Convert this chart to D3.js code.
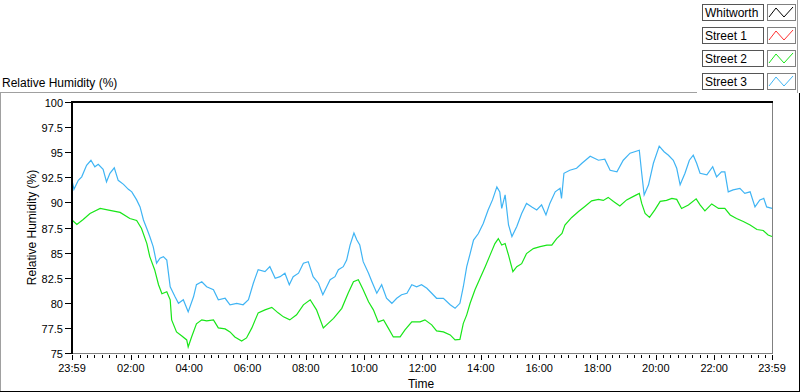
<!DOCTYPE html>
<html>
<head>
<meta charset="utf-8">
<script src="https://cdn.jsdelivr.net/npm/d3@7"></script>
<style>
  body { margin: 0; background: #fff; }
  svg { display: block; font-family: "Liberation Sans", Arial, sans-serif; }
</style>
</head>
<body>
<div id="chart"></div>
<script>
// series names shown in the legend
const seriesNames = ['Whitworth', 'Street 1', 'Street 2', 'Street 3'];
const seriesColors = ['#000000', '#ff3030', '#19e619', '#3fb4f4'];

// minutes after 23:59, value (%)
const street2 = [
  [0, 88.25], [10, 87.8], [23, 88.3], [37, 88.9], [58, 89.4], [78, 89.2], [99, 89.0],
  [119, 88.4], [133, 88.2], [143, 87.4], [154, 85.9], [160, 84.6], [170, 83.3], [178, 81.8],
  [185, 80.9], [195, 81.1], [202, 80.3], [205, 78.3], [215, 77.1], [226, 76.7], [236, 76.3],
  [239, 75.6], [246, 76.6], [256, 77.9], [267, 78.3], [277, 78.2], [291, 78.3], [301, 77.5],
  [315, 77.4], [325, 77.1], [335, 76.6], [349, 76.2], [359, 76.5], [370, 77.5], [383, 79.0],
  [397, 79.3], [411, 79.55], [424, 79.0], [435, 78.6], [448, 78.3], [462, 78.8], [476, 79.8],
  [490, 80.3], [503, 79.3], [517, 77.5], [527, 77.95], [538, 78.45], [555, 79.45], [568, 80.95],
  [579, 82.1], [589, 82.3], [599, 81.3], [610, 80.1], [620, 79.3], [630, 78.1], [641, 78.3],
  [651, 77.45], [661, 76.6], [675, 76.6], [685, 77.3], [699, 78.1], [716, 78.1], [726, 78.3],
  [740, 77.8], [750, 77.2], [764, 77.1], [778, 76.8], [788, 76.3], [798, 76.35], [805, 77.95],
  [812, 78.8], [819, 79.95], [829, 81.3], [839, 82.4], [850, 83.6], [860, 84.75], [870, 85.9],
  [877, 86.4], [884, 85.75], [891, 85.9], [898, 84.75], [907, 83.1], [915, 83.6], [925, 83.9],
  [935, 84.9], [949, 85.4], [963, 85.6], [977, 85.75], [987, 85.75], [997, 86.4], [1008, 86.9],
  [1014, 87.75], [1028, 88.5], [1042, 89.1], [1055, 89.6], [1069, 90.15], [1083, 90.3],
  [1093, 90.2], [1103, 90.5], [1114, 90.1], [1127, 89.65], [1141, 90.25], [1155, 90.6],
  [1167, 90.9], [1172, 89.9], [1179, 88.9], [1188, 88.5], [1199, 89.25], [1210, 90.1],
  [1223, 90.2], [1234, 90.4], [1244, 90.3], [1254, 89.4], [1268, 89.75], [1284, 90.35],
  [1292, 89.75], [1302, 89.15], [1316, 89.85], [1330, 89.4], [1343, 89.4], [1354, 88.75],
  [1367, 88.4], [1381, 88.1], [1395, 87.75], [1409, 87.3], [1422, 87.2], [1432, 86.75], [1440, 86.6]
];

const street3 = [
  [0, 92.2], [4, 91.3], [13, 92.2], [20, 92.55], [30, 93.7], [39, 94.2], [47, 93.55], [54, 93.8],
  [64, 93.3], [71, 92.05], [78, 92.9], [87, 93.45], [95, 92.2], [106, 91.8], [116, 91.3],
  [123, 91.05], [133, 90.25], [140, 89.55], [147, 88.25], [155, 87.25], [160, 86.6], [167, 85.6],
  [174, 83.95], [181, 84.45], [188, 84.6], [195, 84.25], [202, 81.6], [212, 80.6], [219, 79.95],
  [229, 80.3], [239, 79.1], [250, 80.6], [256, 81.8], [267, 82.1], [277, 81.6], [291, 81.3],
  [301, 80.3], [315, 80.45], [325, 79.8], [339, 79.95], [352, 79.8], [363, 80.3], [373, 81.95],
  [383, 83.3], [397, 83.1], [407, 83.6], [418, 82.45], [428, 82.6], [438, 82.95], [447, 81.8],
  [455, 82.6], [466, 82.95], [476, 83.95], [486, 84.1], [496, 82.6], [507, 81.95], [516, 80.8],
  [524, 81.6], [531, 82.3], [541, 82.6], [548, 83.3], [558, 83.6], [565, 84.25], [572, 85.75],
  [580, 86.95], [586, 86.25], [592, 85.75], [599, 84.1], [610, 82.95], [617, 82.1], [627, 80.95],
  [637, 81.8], [647, 80.45], [658, 79.95], [668, 80.45], [678, 80.8], [689, 80.95], [699, 81.8],
  [709, 81.6], [719, 81.8], [730, 81.45], [740, 80.95], [750, 80.45], [764, 80.45], [778, 79.8],
  [788, 79.45], [798, 79.95], [805, 81.6], [812, 83.6], [819, 84.9], [826, 86.25], [836, 86.9],
  [846, 87.9], [856, 89.25], [865, 90.25], [874, 91.55], [880, 91.05], [884, 89.4], [891, 90.75],
  [898, 87.75], [905, 86.6], [915, 87.6], [925, 88.9], [935, 89.9], [946, 89.55], [956, 89.25],
  [966, 89.75], [975, 88.75], [983, 89.9], [994, 91.05], [1004, 91.4], [1007, 90.4], [1012, 92.9],
  [1024, 93.2], [1038, 93.4], [1049, 93.9], [1066, 94.6], [1083, 94.2], [1096, 94.3], [1107, 93.2],
  [1121, 93.05], [1134, 94.2], [1148, 94.9], [1167, 95.2], [1172, 92.9], [1177, 90.75],
  [1186, 91.75], [1196, 93.9], [1208, 95.6], [1218, 95.05], [1227, 94.7], [1237, 94.2],
  [1244, 93.4], [1251, 91.75], [1261, 92.9], [1270, 94.2], [1278, 94.7], [1285, 93.9],
  [1292, 92.9], [1306, 92.75], [1318, 93.55], [1326, 92.55], [1336, 93.05], [1343, 93.05],
  [1350, 91.05], [1360, 91.25], [1374, 91.4], [1384, 90.9], [1395, 91.05], [1405, 89.55],
  [1415, 90.25], [1423, 90.4], [1429, 89.55], [1440, 89.4]
];

const yTicks = [75, 77.5, 80, 82.5, 85, 87.5, 90, 92.5, 95, 97.5, 100];

const width = 800, height = 392;
const plot = { left: 72, right: 772, top: 102, bottom: 353 };

const start = new Date(2013, 0, 1, 23, 59);
const end = new Date(2013, 0, 2, 23, 59);
const toDate = m => new Date(start.getTime() + m * 60000);

const svg = d3.select('#chart').append('svg')
  .attr('width', width)
  .attr('height', height);

svg.append('rect').attr('width', width).attr('height', height).attr('fill', '#fff');

const x = d3.scaleTime().domain([start, end]).range([plot.left, plot.right]);
const y = d3.scaleLinear().domain([75, 100]).range([plot.bottom, plot.top]);

// outer frame
svg.append('line').attr('x1', 0).attr('x2', 697).attr('y1', 92.5).attr('y2', 92.5).attr('stroke', '#a0a0a0');
svg.append('line').attr('x1', 0.5).attr('x2', 0.5).attr('y1', 92.5).attr('y2', height).attr('stroke', '#a0a0a0');
svg.append('line').attr('x1', 799.5).attr('x2', 799.5).attr('y1', 93).attr('y2', height).attr('stroke', '#000');
svg.append('line').attr('x1', 0).attr('x2', width).attr('y1', 391.5).attr('y2', 391.5).attr('stroke', '#000');
svg.append('line').attr('x1', 797.5).attr('x2', 797.5).attr('y1', 0).attr('y2', 93).attr('stroke', '#a0a0a0');

// chart title
svg.append('text')
  .attr('x', 2).attr('y', 87)
  .attr('font-size', '12px')
  .attr('fill', '#000')
  .text('Relative Humidity (%)');

// plot border: right and bottom gray, top and left black
svg.append('line').attr('x1', plot.right + 0.5).attr('x2', plot.right + 0.5)
  .attr('y1', plot.top).attr('y2', plot.bottom).attr('stroke', '#808080');
svg.append('line').attr('x1', plot.left).attr('x2', plot.right + 1)
  .attr('y1', plot.bottom + 0.5).attr('y2', plot.bottom + 0.5).attr('stroke', '#808080');

// x axis ticks: minor every 15 min, major every 2 h
const isMajor = d => d.getMinutes() === 0 && d.getHours() % 2 === 0;
const quarterTicks = d3.timeMinute.every(15).range(start, end);
const tickG = svg.append('g').attr('shape-rendering', 'crispEdges');
tickG.selectAll('line')
  .data(quarterTicks.concat([start, end]))
  .enter().append('line')
  .attr('x1', d => Math.round(x(d)) + 0.5)
  .attr('x2', d => Math.round(x(d)) + 0.5)
  .attr('y1', plot.bottom + 2)
  .attr('y2', d => (isMajor(d) || d === start || d === end) ? plot.bottom + 7 : plot.bottom + 5)
  .attr('stroke', '#000')
  .attr('stroke-width', 1);

const labelTicks = [start]
  .concat(quarterTicks.filter(d => isMajor(d) && d.getHours() !== 0))
  .concat([end]);

const fmt = d3.timeFormat('%H:%M');
svg.append('g').selectAll('text')
  .data(labelTicks)
  .enter().append('text')
  .attr('x', d => x(d))
  .attr('y', 372)
  .attr('text-anchor', 'middle')
  .attr('font-size', '11px')
  .attr('fill', '#000')
  .text(d => fmt(d));

svg.append('text')
  .attr('x', 421).attr('y', 388)
  .attr('text-anchor', 'middle')
  .attr('font-size', '12px')
  .attr('fill', '#000')
  .text('Time');

// y axis ticks
yTicks.forEach(function(v) {
  const yy = Math.round(y(v)) + 0.5;
  svg.append('line')
    .attr('x1', 65).attr('x2', 71)
    .attr('y1', yy).attr('y2', yy)
    .attr('stroke', '#000');
  svg.append('text')
    .attr('x', 63).attr('y', yy + 4)
    .attr('text-anchor', 'end')
    .attr('font-size', '11px')
    .attr('fill', '#000')
    .text(v);
});

svg.append('text')
  .attr('transform', 'translate(36,' + ((plot.top + plot.bottom) / 2) + ') rotate(-90)')
  .attr('text-anchor', 'middle')
  .attr('font-size', '12px')
  .attr('fill', '#000')
  .text('Relative Humidity (%)');

// data lines
const line = d3.line()
  .x(d => x(toDate(d[0])))
  .y(d => y(d[1]));

const plotG = svg.append('g');
[[street2, seriesColors[2]], [street3, seriesColors[3]]].forEach(function(s) {
  plotG.append('path')
    .datum(s[0])
    .attr('d', line)
    .attr('fill', 'none')
    .attr('stroke', s[1])
    .attr('stroke-width', 1.2);
});

// black top and left axis lines drawn over data
svg.append('line').attr('x1', plot.left - 1).attr('x2', plot.right + 1)
  .attr('y1', plot.top).attr('y2', plot.top).attr('stroke', '#000').attr('stroke-width', 2);
svg.append('line').attr('x1', plot.left).attr('x2', plot.left)
  .attr('y1', plot.top - 1).attr('y2', plot.bottom + 1).attr('stroke', '#000').attr('stroke-width', 2);

// legend
const legend = svg.append('g');
seriesNames.forEach(function(name, i) {
  const top = 4 + i * 23;
  legend.append('rect')
    .attr('x', 702.5).attr('y', top + 0.5)
    .attr('width', 61).attr('height', 16)
    .attr('fill', '#fff')
    .attr('stroke', '#555');
  legend.append('text')
    .attr('x', 705).attr('y', top + 13)
    .attr('font-size', '12px')
    .attr('fill', '#000')
    .text(name);
  legend.append('rect')
    .attr('x', 767.5).attr('y', top + 0.5)
    .attr('width', 28).attr('height', 16)
    .attr('fill', '#fff')
    .attr('stroke', '#808080');
  legend.append('path')
    .attr('d', 'M769,' + (top + 13) + 'L776,' + (top + 4) + 'L784,' + (top + 13) + 'L793,' + (top + 3))
    .attr('fill', 'none')
    .attr('stroke', seriesColors[i])
    .attr('stroke-width', 1);
});
</script>
</body>
</html>
